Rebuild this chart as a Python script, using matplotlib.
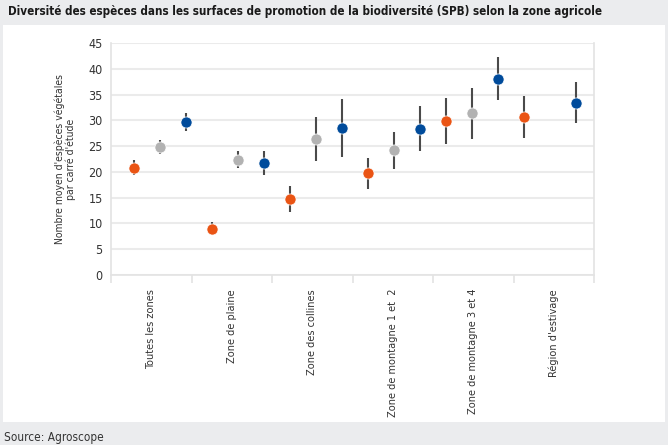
import matplotlib
matplotlib.use("Agg")
import matplotlib.pyplot as plt
import matplotlib.patches as patches
import numpy as np

plt.rcParams['font.family'] = ['DejaVu Sans']
plt.rcParams['font.stretch'] = 'condensed'

# data: mean and error bar ends, order orange / grey / blue per zone
zones = ['Toutes les zones', 'Zone de plaine', 'Zone des collines',
         'Zone de montagne 1 et  2', 'Zone de montagne 3 et 4', "Région d'estivage"]
orange_mean = [20.8, 9.0, 14.7, 19.7, 29.9, 30.6]
orange_hi = [22.3, 10.3, 17.2, 22.7, 34.3, 34.7]
orange_lo = [19.3, 7.8, 12.3, 16.6, 25.5, 26.6]
grey_mean = [24.8, 22.4, 26.4, 24.2, 31.4, np.nan]
grey_hi = [26.1, 24.1, 30.6, 27.8, 36.3, np.nan]
grey_lo = [23.4, 20.8, 22.1, 20.6, 26.4, np.nan]
blue_mean = [29.6, 21.7, 28.6, 28.4, 38.1, 33.4]
blue_hi = [31.4, 24.0, 34.2, 32.7, 42.3, 37.4]
blue_lo = [28.0, 19.4, 22.9, 24.1, 33.9, 29.5]
yticks = [0, 5, 10, 15, 20, 25, 30, 35, 40, 45]

col_orange = '#ea5414'
col_grey = '#b2b2b2'
col_blue = '#004b9b'

fig = plt.figure(figsize=(6.68, 4.45), dpi=100, facecolor='#ebecee')
fig.patches.append(patches.Rectangle((3 / 668, 1 - 422 / 445), 662 / 668, 397 / 445,
                                     transform=fig.transFigure, facecolor='white',
                                     edgecolor='none', zorder=-5))

ax = fig.add_axes([111 / 668, 1 - 275 / 445, 483 / 668, 232 / 445])
ax.set_facecolor('none')

n = len(zones)
series = [(orange_mean, orange_lo, orange_hi, col_orange),
          (grey_mean, grey_lo, grey_hi, col_grey),
          (blue_mean, blue_lo, blue_hi, col_blue)]
for k, (m, lo, hi, c) in enumerate(series):
    x = np.arange(n) * 3 + k
    ax.vlines(x, lo, hi, color='#4a4a4a', lw=1.5, zorder=2)
    ax.plot(x, m, 'o', color=c, ms=8, mec='white', mew=0.5, zorder=3, ls='')

left, right = -0.885, 17.69
ax.set_xlim(left, right)
ax.set_ylim(0, 45)
ax.set_yticks(yticks)
ax.yaxis.grid(True, color='#ebebeb', lw=1.5, zorder=0)
ax.set_axisbelow(True)

bounds = np.linspace(left, right, n + 1)
ax.set_xticks(bounds)
ax.set_xticklabels([])
ax.set_xticks((bounds[:-1] + bounds[1:]) / 2, minor=True)
ax.set_xticklabels(zones, minor=True, rotation=90, va='top', fontsize=7.8, color='#333333')
ax.tick_params(axis='x', which='major', length=6, color='#e3e3e3', width=1.2)
ax.tick_params(axis='x', which='minor', length=0, pad=10)
ax.tick_params(axis='y', length=0, labelsize=9, labelcolor='#333333', pad=6)

ax.spines['top'].set_visible(False)
for s in ['left', 'right', 'bottom']:
    ax.spines[s].set_color('#e3e3e3')
    ax.spines[s].set_linewidth(1.2)

ax.set_ylabel("Nombre moyen d'espèces végétales\npar carré d'étude", fontsize=7.5,
              color='#333333', labelpad=9, linespacing=1.0)

fig.text(8 / 668, 1 - 12 / 445, 'Diversité des espèces dans les surfaces de promotion de la biodiversité (SPB) selon la zone agricole',
         fontsize=8.4, fontweight='bold', va='center', ha='left', color='#1a1a1a')
fig.text(4 / 668, 1 - 437 / 445, 'Source: Agroscope', fontsize=8.5, va='center', ha='left',
         color='#333333')

fig.savefig('out.png', dpi=100, facecolor=fig.get_facecolor())
